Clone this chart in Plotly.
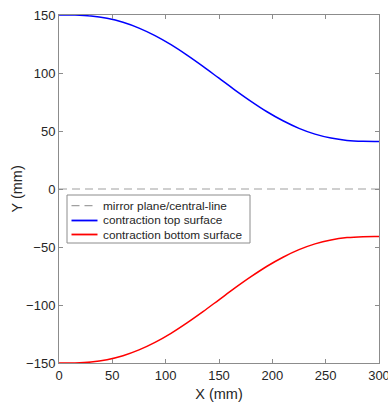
import plotly.graph_objects as go

x_mm = [0, 15, 30, 45, 60, 75, 90, 105, 120, 135, 150, 165, 180, 195, 210, 225, 240, 255, 270, 285, 300]
top_mm = [150, 149.9, 149.1, 147.1, 143.7, 138.7, 132.2, 124.4, 115.4, 105.7, 95.5,
          85.3, 75.6, 66.6, 58.8, 52.3, 47.3, 43.9, 41.9, 41.1, 41.0]
bottom_mm = [-150, -149.9, -149.1, -147.1, -143.7, -138.7, -132.2, -124.4, -115.4, -105.7, -95.5,
             -85.3, -75.6, -66.6, -58.8, -52.3, -47.3, -43.9, -41.9, -41.1, -41.0]
mirror_x = [0, 300]
mirror_y = [0, 0]
x_ticks = [0, 50, 100, 150, 200, 250, 300]
y_ticks = [-150, -100, -50, 0, 50, 100, 150]
legend_names = ["mirror plane/central-line", "contraction top surface", "contraction bottom surface"]

styles = [dict(color="#a0a0a0", width=1.2, dash="8px,5px"),
          dict(color="#0000ff", width=1.5),
          dict(color="#ff0000", width=1.5)]

fig = go.Figure()
fig.add_trace(go.Scatter(x=mirror_x, y=mirror_y, mode="lines", name=legend_names[0],
                         line=styles[0], showlegend=False))
fig.add_trace(go.Scatter(x=x_mm, y=top_mm, mode="lines", name=legend_names[1],
                         line=dict(shape="spline", **styles[1]), showlegend=False))
fig.add_trace(go.Scatter(x=x_mm, y=bottom_mm, mode="lines", name=legend_names[2],
                         line=dict(shape="spline", **styles[2]), showlegend=False))

# Manual legend (paper coordinates) to match the compact MATLAB-style legend box
W, H = 388, 403
ml, mr, mt, mb = 59, 9, 15, 40
pw, ph = W - ml - mr, H - mt - mb

def px(xp):
    return (xp - ml) / pw

def py(yp):
    return (H - mb - yp) / ph

fig.add_shape(type="rect", xref="paper", yref="paper",
              x0=px(67), x1=px(250), y0=py(243), y1=py(195),
              line=dict(color="#8c8c8c", width=1), fillcolor="white", layer="above")
entry_y = [205.7, 220.5, 234.5]
for name, st, ey in zip(legend_names, styles, entry_y):
    fig.add_shape(type="line", xref="paper", yref="paper",
                  x0=px(71.5), x1=px(97.5), y0=py(ey), y1=py(ey),
                  line=dict(color=st["color"], width=st["width"] + (0.3 if "dash" not in st else 0),
                            dash=st.get("dash", "solid")), layer="above")
    fig.add_annotation(xref="paper", yref="paper", x=px(100.5), y=py(ey),
                       xanchor="left", yanchor="middle", text=name, showarrow=False,
                       font=dict(size=11.8, color="#262626"))

# Y axis title as rotated annotation for precise placement
fig.add_annotation(xref="paper", yref="paper", x=px(16.5), y=0.5,
                   xanchor="center", yanchor="middle", text="Y (mm)", textangle=-90,
                   showarrow=False, font=dict(size=14.5, color="#262626"))

axis_common = dict(showline=True, linecolor="#8c8c8c", linewidth=1, mirror="ticks",
                   ticks="inside", ticklen=4, tickcolor="#8c8c8c", showgrid=False,
                   zeroline=False, automargin=False, tickfont=dict(size=13, color="#262626"))

fig.update_layout(
    width=W, height=H,
    margin=dict(l=ml, r=mr, t=mt, b=mb),
    paper_bgcolor="white", plot_bgcolor="white",
    font=dict(family="Liberation Sans, Arial, sans-serif", color="#262626"),
    showlegend=False,
    xaxis=dict(range=[0, 300], tickvals=x_ticks, ticklabeloverflow="allow",
               title=dict(text="X (mm)", font=dict(size=14.5), standoff=7), **axis_common),
    yaxis=dict(range=[-150, 150], tickvals=y_ticks, **axis_common),
)

fig.write_html("out.html")
